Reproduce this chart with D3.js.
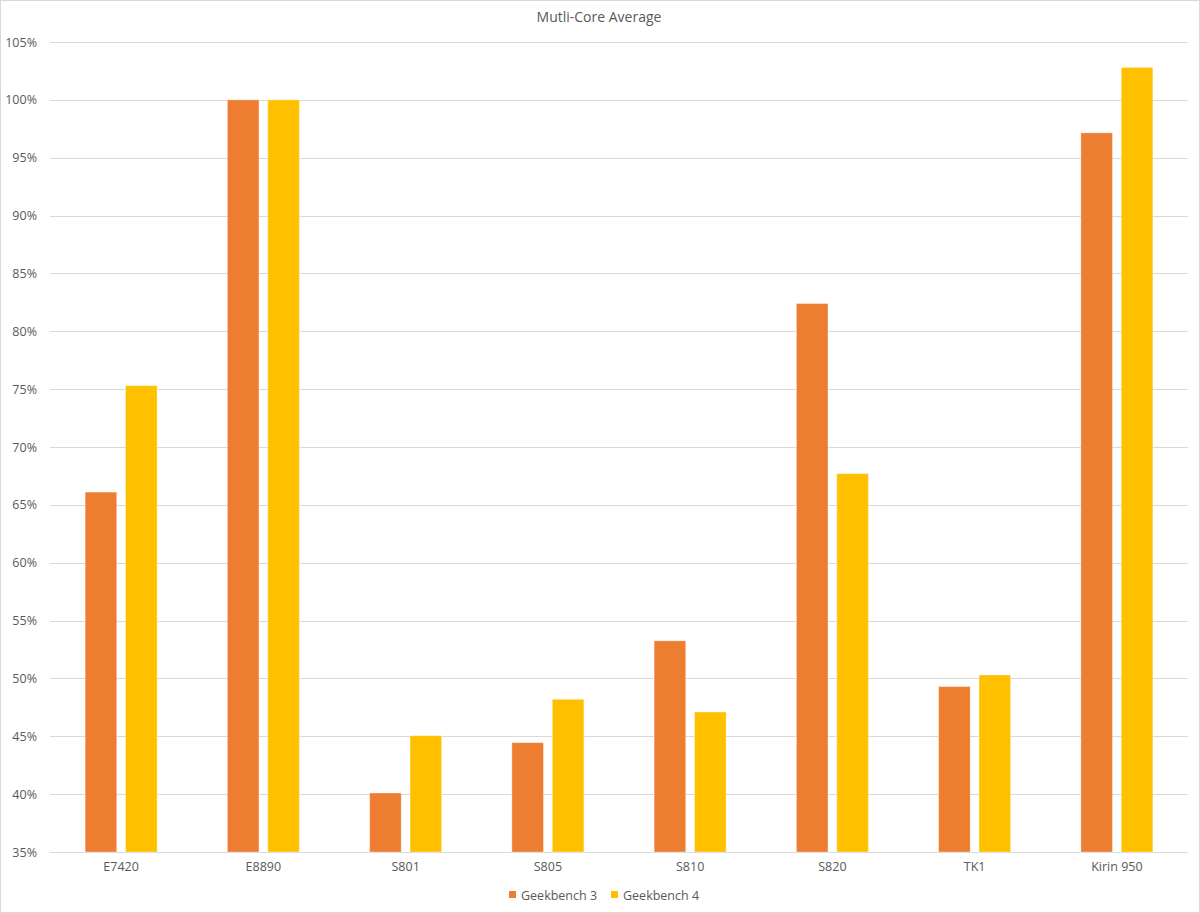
<!DOCTYPE html>
<html>
<head>
<meta charset="utf-8">
<script src="https://cdn.jsdelivr.net/npm/d3@7"></script>
<style>
  html, body { margin: 0; padding: 0; background: #fff; }
  svg { display: block; }
  text { font-family: "Open Sans", "Noto Sans", sans-serif; fill: #595959; }
</style>
</head>
<body>
<svg id="chart" width="1200" height="913"></svg>
<script>
const categories = ["E7420", "E8890", "S801", "S805", "S810", "S820", "TK1", "Kirin 950"];
const seriesNames = ["Geekbench 3", "Geekbench 4"];
const geekbench3 = [66.1, 100, 40.1, 44.45, 53.25, 82.4, 49.3, 97.15];
const geekbench4 = [75.3, 100, 45.05, 48.2, 47.1, 67.7, 50.3, 102.8];
const yTicks = [35, 40, 45, 50, 55, 60, 65, 70, 75, 80, 85, 90, 95, 100, 105];
const colors = ["#ED7D31", "#FFC000"];

const W = 1200, H = 913;
const margin = { left: 50, right: 12, top: 42, bottom: 61 };
const svg = d3.select("#chart");

// chart border
svg.append("rect").attr("x", 0.5).attr("y", 0.5).attr("width", W - 1).attr("height", H - 1)
  .attr("fill", "#fff").attr("stroke", "#d9d9d9");

const x = d3.scaleBand().domain(categories).range([margin.left, W - margin.right]).paddingInner(0).paddingOuter(0);
const y = d3.scaleLinear().domain([35, 105]).range([H - margin.bottom, margin.top]);

// gridlines
svg.append("g").selectAll("line").data(yTicks).join("line")
  .attr("x1", margin.left).attr("x2", W - margin.right)
  .attr("y1", d => Math.round(y(d)) + 0.5).attr("y2", d => Math.round(y(d)) + 0.5)
  .attr("stroke", "#d9d9d9").attr("stroke-width", 1);

// y axis labels
const yAxis = d3.axisLeft(y).tickValues(yTicks).tickFormat(d => d + "%").tickSize(0).tickPadding(0);
const yg = svg.append("g").attr("transform", `translate(${margin.left - 13},0)`).call(yAxis);
yg.select(".domain").remove();
yg.selectAll("text").attr("font-size", 12.5).attr("fill", "#595959")
  .style("font-family", '"Open Sans", "Noto Sans", sans-serif');

// bars
const bw = x.bandwidth();
const barW = bw * 0.222;
const innerGap = bw * 0.062;
const data = [geekbench3, geekbench4];
data.forEach((vals, si) => {
  svg.append("g").selectAll("rect").data(categories).join("rect")
    .attr("x", (c) => x(c) + bw / 2 + (si === 0 ? -innerGap / 2 - barW : innerGap / 2))
    .attr("width", barW)
    .attr("y", (c, i) => y(vals[i]))
    .attr("height", (c, i) => y(35) - y(vals[i]))
    .attr("fill", colors[si])
    .attr("stroke", "#fff").attr("stroke-opacity", 0.35).attr("stroke-width", 1);
});

// x axis labels
const xAxis = d3.axisBottom(x).tickSize(0).tickPadding(0);
const xg = svg.append("g").attr("transform", `translate(0,${H - margin.bottom + 10})`).call(xAxis);
xg.select(".domain").remove();
xg.selectAll("text").attr("font-size", 12.5).attr("fill", "#595959")
  .style("font-family", '"Open Sans", "Noto Sans", sans-serif');

// title
svg.append("text").attr("x", 599).attr("y", 22).attr("text-anchor", "middle")
  .attr("font-size", 14).text("Mutli-Core Average");

// legend
const legendX = [509, 611];
seriesNames.forEach((n, i) => {
  svg.append("rect").attr("x", legendX[i]).attr("y", 891).attr("width", 7).attr("height", 7).attr("fill", colors[i]);
  svg.append("text").attr("x", legendX[i] + 12).attr("y", 899.5).attr("font-size", 12.5).text(n);
});
</script>
</body>
</html>
